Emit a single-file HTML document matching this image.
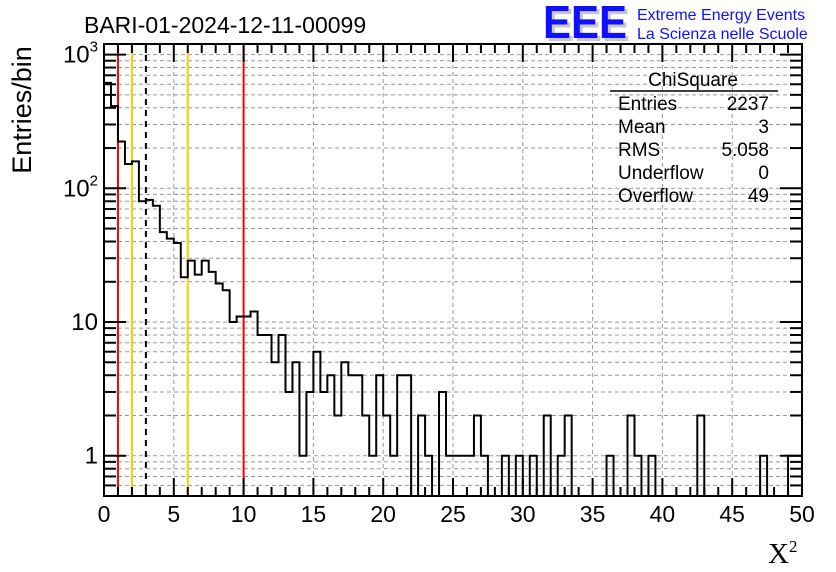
<!DOCTYPE html>
<html><head><meta charset="utf-8"><style>
html,body{margin:0;padding:0;background:#fff;}
svg{display:block;font-family:"Liberation Sans",sans-serif;}
</style></head><body>
<svg id="c" width="836" height="572" viewBox="0 0 836 572">
<defs><clipPath id="pc"><rect x="104" y="44" width="698" height="452"/></clipPath></defs>
<rect width="836" height="572" fill="#fff"/>
<g id="grid"></g>
<g id="lines"></g>
<g id="hist" clip-path="url(#pc)"></g>
<g id="axes"></g>
<text x="84" y="33" font-size="23">BARI-01-2024-12-11-00099</text>
<g>
<text x="546" y="41" font-size="46" font-weight="bold" fill="#c8c8c8" textLength="84" lengthAdjust="spacingAndGlyphs">EEE</text>
<text x="543" y="38" font-size="46" font-weight="bold" fill="#1010ff" textLength="84" lengthAdjust="spacingAndGlyphs">EEE</text>
<text x="637" y="20" font-size="16" fill="#1010ff">Extreme Energy Events</text>
<text x="637" y="39" font-size="16" fill="#1010ff">La Scienza nelle Scuole</text>
</g>
<g font-size="19">
<text x="693" y="86" text-anchor="middle">ChiSquare</text>
<line x1="610" y1="91" x2="778" y2="91" stroke="#000" stroke-width="1.5"/>
<text x="618" y="110">Entries</text><text x="769" y="110" text-anchor="end">2237</text>
<text x="618" y="133">Mean</text><text x="769" y="133" text-anchor="end">3</text>
<text x="618" y="156">RMS</text><text x="769" y="156" text-anchor="end">5.058</text>
<text x="618" y="179">Underflow</text><text x="769" y="179" text-anchor="end">0</text>
<text x="618" y="202">Overflow</text><text x="769" y="202" text-anchor="end">49</text>
</g>
<text transform="translate(31,110) rotate(-90)" font-size="27" text-anchor="middle">Entries/bin</text>
<text x="768" y="563" font-size="29" font-family="Liberation Serif,serif">X<tspan font-size="17" dy="-11">2</tspan></text>
</svg>
<script>
const counts = [614,412,224,152,159,80,82,74,47,42,39,21.6,28.8,22.6,28.8,23.7,19.4,17.3,10,11,11,12,8,8,5,8,3,5,1,3,6,3,4,2,5,4,4,2,1,4,2,1,4,4,0,2,1,0,3,1,1,1,1,2,1,0,0,1,0,1,0,1,0,2,0,1,2,0,0,0,0,0,1,0,0,2,1,0,1,0,0,0,0,0,0,2,0,0,0,0,0,0,0,0,1,0,0,0,1,1];
const binWidth = [0.5];
const xTicks = [0,5,10,15,20,25,30,35,40,45,50];
const yDecades = [1,10,100,1000];
const yDecadeLabels = ["1","10","10","10"];
const redCuts = [1,10];
const goldCuts = [2,6];
const meanCut = [3];

const L=104,R=802,T=44,B=496;
const xMin=0,xMax=50,yMinLog=Math.log10(0.5),yMaxLog=Math.log10(1200);
const X=v=>L+(v-xMin)/(xMax-xMin)*(R-L);
const Y=v=>B-(Math.log10(v)-yMinLog)/(yMaxLog-yMinLog)*(B-T);
const NS="http://www.w3.org/2000/svg";
function mk(tag,attrs,parent){const e=document.createElementNS(NS,tag);for(const k in attrs)e.setAttribute(k,attrs[k]);parent.appendChild(e);return e;}
const grid=document.getElementById('grid'),axes=document.getElementById('axes'),hist=document.getElementById('hist'),lines=document.getElementById('lines');

xTicks.forEach(t=>{if(t>xMin&&t<xMax){const g=mk('line',{x1:X(t),x2:X(t),y1:T,y2:B,stroke:'#999','stroke-dasharray':'4,3','stroke-width':1},grid);

}});
yDecades.forEach(d=>{for(let m=1;m<=9;m++){const v=d*m;if(v<0.5||v>1200)continue;const y=Y(v);
const g=mk('line',{x1:L,x2:R,y1:y,y2:y,stroke:'#999','stroke-dasharray':'4,3','stroke-width':1},grid);


const big=(m===1);
const t1=mk('line',{x1:L,x2:L+(big?22:12),y1:y,y2:y,stroke:'#000','stroke-width':2},axes);


const t2=mk('line',{x1:R,x2:R-(big?22:12),y1:y,y2:y,stroke:'#000','stroke-width':2},axes);

}});
[0.5,0.6,0.7,0.8,0.9].forEach(v=>{const y=Y(v);
const g=mk('line',{x1:L,x2:R,y1:y,y2:y,stroke:'#999','stroke-dasharray':'4,3','stroke-width':1},grid);


const t1=mk('line',{x1:L,x2:L+12,y1:y,y2:y,stroke:'#000','stroke-width':2},axes);


const t2=mk('line',{x1:R,x2:R-12,y1:y,y2:y,stroke:'#000','stroke-width':2},axes);

});

function vline(v,color,dash,name){const l=mk('line',{x1:X(v),x2:X(v),y1:T,y2:B,stroke:color,'stroke-width':2},lines);if(dash)l.setAttribute('stroke-dasharray',dash);

}
redCuts.forEach(v=>vline(v,'#ff0000',null,'red-cut-line'));
goldCuts.forEach(v=>vline(v,'#ffcc00',null,'gold-cut-line'));
meanCut.forEach(v=>vline(v,'#000',"6,5",'mean-line'));

const bw=binWidth[0];
let d='',prevY=B;
counts.forEach((c,i)=>{const x0=X(i*bw),x1=X((i+1)*bw);const y=c>0?Y(c):B+20;
if(i===0)d+=`M${x0},${y}`;else d+=`L${x0},${prevY}L${x0},${y}`;d+=`L${x1},${y}`;prevY=y;});
const hp=mk('path',{d:d,fill:'none',stroke:'#000','stroke-width':2},hist);



const fr=mk('rect',{x:L,y:T,width:R-L,height:B-T,fill:'none',stroke:'#000','stroke-width':2},axes);


for(let v=xMin;v<=xMax;v++){const big=v%5===0;const x=X(v);
const t=mk('line',{x1:x,x2:x,y1:B,y2:B-(big?18:9),stroke:'#000','stroke-width':2},axes);


const t2=mk('line',{x1:x,x2:x,y1:T,y2:T+(big?18:9),stroke:'#000','stroke-width':2},axes);

}
xTicks.forEach(t=>{const tx=mk('text',{x:X(t),y:522,'font-size':23,'text-anchor':'middle'},axes);tx.textContent=t;

});
yDecades.forEach((v,i)=>{const y=Y(v)+8;const tx=mk('text',{x:98,y:y,'font-size':24,'text-anchor':'end'},axes);


if(v>=100){tx.textContent=yDecadeLabels[i];const s=mk('tspan',{'font-size':15,dy:-11},tx);s.textContent=String(Math.round(Math.log10(v)));}
else tx.textContent=yDecadeLabels[i];});
</script>
</body></html>
